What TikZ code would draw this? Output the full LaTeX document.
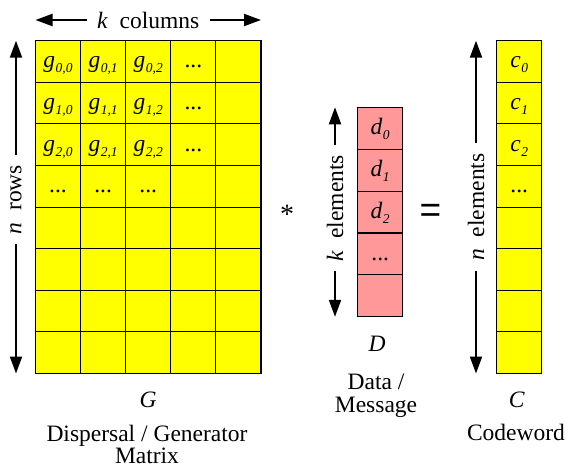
\documentclass[tikz,border=0pt]{standalone}
\usepackage{fontspec}
\setmainfont{Liberation Serif}
\newfontfamily\symbolsans{Liberation Sans}
\usetikzlibrary{arrows.meta}

\definecolor{gridyellow}{HTML}{FFFF00}
\definecolor{datapink}{HTML}{FF9999}

% italic entry name followed by a lowered, smaller italic index
\newcommand\entrysub[1]{\raisebox{-5pt}{\fontsize{13.5}{13.5}\selectfont\itshape #1}}
\newcommand\entry[2]{\textit{#1}\kern0.5pt\entrysub{#2}}
\newcommand\celldots{...}

\begin{document}
\begin{tikzpicture}[x=1pt,y=-1pt,
  every node/.style={font=\fontsize{23.5}{22.5}\selectfont},
  cell/.style={draw=black,line width=1.1pt,minimum width=45.1pt,minimum height=41.6pt,
    inner sep=0pt,outer sep=0pt,text height=16pt,text depth=3pt,anchor=north west},
  ycell/.style={cell,fill=gridyellow},
  pcell/.style={cell,fill=datapink,minimum width=45pt,minimum height=41.9pt},
  dimarrow/.style={-{Triangle[length=17pt,width=12pt]},line width=2pt},
  dimlabel/.style={inner xsep=10pt,inner ysep=0pt},
]
\useasboundingbox (0,0) rectangle (567,468);

% generator matrix G: 8 rows x 5 columns
\foreach \gr in {0,...,7}{
  \foreach \gc in {0,...,4}{
    \node[ycell] (g-\gr-\gc) at ({35.5+45.1*\gc},{40.7+41.6*\gr})
      {\ifnum\gr<3 \ifnum\gc<3 \entry{g}{\gr,\gc}\else\ifnum\gc=3 \celldots\fi\fi\else\ifnum\gr=3 \ifnum\gc<3 \celldots\fi\fi\fi};
  }
}

% data vector D
\foreach \di in {0,...,4}{
  \node[pcell] (d-\di) at (357.7,{107.3+41.9*\di})
    {\ifnum\di<3 \entry{d}{\di}\else\ifnum\di=3 \celldots\fi\fi};
}

% codeword vector C
\foreach \di in {0,...,7}{
  \node[ycell] (c-\di) at (496.7,{40.7+41.6*\di})
    {\ifnum\di<3 \entry{c}{\di}\else\ifnum\di=3 \celldots\fi\fi};
}

% dimension arrows
\node[dimlabel] (kcols) at (148.3,20) {\textit{k}\ \ columns};
\draw[dimarrow] (kcols.west) -- (g-0-0.north west |- kcols.west);
\draw[dimarrow] (kcols.east) -- (g-0-4.north east |- kcols.east);

\node[dimlabel,rotate=90] (nrows) at (16,199.5) {\textit{n}\ \ rows};
\draw[dimarrow] (nrows.east) -- (nrows.east |- g-0-0.north);
\draw[dimarrow] (nrows.west) -- (nrows.west |- g-7-0.south);

\node[dimlabel,rotate=90] (kelem) at (335,208) {\textit{k}\ \ elements};
\draw[dimarrow] (kelem.east) -- (kelem.east |- d-0.north);
\draw[dimarrow] (kelem.west) -- (kelem.west |- d-4.south);

\node[dimlabel,rotate=90] (nelem) at (476,207) {\textit{n}\ \ elements};
\draw[dimarrow] (nelem.east) -- (nelem.east |- c-0.north);
\draw[dimarrow] (nelem.west) -- (nelem.west |- c-7.south);

% operators
\node[font=\fontsize{28}{28}\selectfont] (times) at (287,214) {*};
\node[font=\symbolsans\fontsize{37}{37}\selectfont] (equals) at (430.5,213) {=};

% names and captions
\node (Gname) at (148,400) {\textit{G}};
\node[align=center] (Gcap) at (147,444.5) {Dispersal / Generator\\Matrix};
\node (Dname) at (377,344) {\textit{D}};
\node[align=center] (Dcap) at (376,396) {Data /\\Message};
\node (Cname) at (516.7,400) {\textit{C}};
\node (Ccap) at (516,432.7) {Codeword};
\end{tikzpicture}
\end{document}
